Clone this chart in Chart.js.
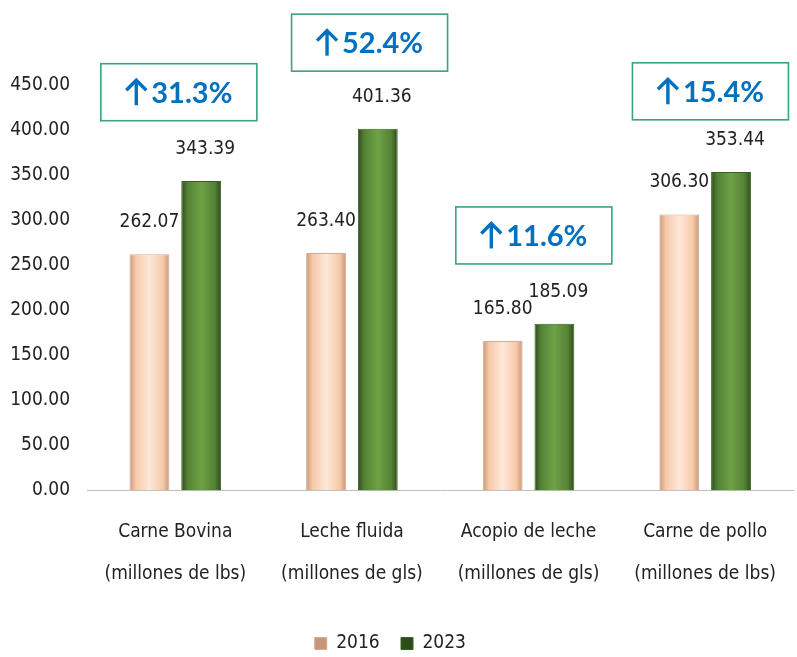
<!DOCTYPE html>
<html>
<head>
<meta charset="utf-8">
<script src="https://cdn.jsdelivr.net/npm/chart.js@4"></script>
<style>
  html, body { margin: 0; padding: 0; background: #fff; }
  #wrap { width: 797px; height: 657px; position: relative; }
</style>
</head>
<body>
<div id="wrap"><canvas id="chart"></canvas></div>
<script>
const categories = [
  ['Carne Bovina', '(millones de lbs)'],
  ['Leche fluida', '(millones de gls)'],
  ['Acopio de leche', '(millones de gls)'],
  ['Carne de pollo', '(millones de lbs)']
];
const values2016 = [262.07, 263.40, 165.80, 306.30];
const values2023 = [343.39, 401.36, 185.09, 353.44];
const growthLabels = ['31.3%', '52.4%', '11.6%', '15.4%'];
const yTicks = [0, 50, 100, 150, 200, 250, 300, 350, 400, 450];

const narrow = '"DejaVu Sans Condensed", "Liberation Sans Narrow", sans-serif';

// horizontal shading so the bars look a bit bevelled
function barFill(light, mid, dark, side) {
  return (ctx) => {
    const chart = ctx.chart;
    const xs = chart.scales && chart.scales.x;
    if (!xs || typeof ctx.dataIndex !== 'number') return mid;
    const slot = xs.width / chart.data.labels.length * 0.586 / 2;
    const cx = xs.getPixelForValue(ctx.dataIndex) + side * slot / 2;
    const half = slot * 0.77 / 2;
    if (!isFinite(cx) || !isFinite(half) || half <= 0) return mid;
    const g = chart.ctx.createLinearGradient(cx - half, 0, cx + half, 0);
    g.addColorStop(0, dark);
    g.addColorStop(0.16, mid);
    g.addColorStop(0.5, light);
    g.addColorStop(0.84, mid);
    g.addColorStop(1, dark);
    return g;
  };
}

// value labels above bars
const valueLabels = {
  id: 'valueLabels',
  afterDatasetsDraw(chart) {
    const c = chart.ctx;
    c.save();
    c.font = '19px ' + narrow;
    c.fillStyle = '#222';
    c.textAlign = 'center';
    c.textBaseline = 'middle';
    chart.data.datasets.forEach((ds, i) => {
      chart.getDatasetMeta(i).data.forEach((bar, j) => {
        c.fillText(ds.data[j].toFixed(2), bar.x + (i === 0 ? 0 : 4), bar.y - 32);
      });
    });
    c.restore();
  }
};

// growth boxes (placement: offset in category units, height in axis units)
const growthBoxes = {
  id: 'growthBoxes',
  afterDraw(chart, args, opts) {
    const c = chart.ctx;
    const xs = chart.scales.x, ys = chart.scales.y;
    c.save();
    growthLabels.forEach((txt, i) => {
      const cx = xs.getPixelForValue(i + opts.dx[i]);
      const cy = ys.getPixelForValue(opts.at[i]);
      const w = 156, h = 57;
      c.fillStyle = '#fff';
      c.fillRect(cx - w / 2, cy - h / 2, w, h);
      c.strokeStyle = '#3BA37C';
      c.lineWidth = 1.6;
      c.strokeRect(cx - w / 2, cy - h / 2, w, h);
      c.font = 'bold 29px Lato, sans-serif';
      const tw = c.measureText(txt).width;
      const aw = 26;
      const x0 = cx - (tw + aw) / 2;
      // arrow
      c.strokeStyle = '#0070C0';
      c.lineWidth = 3.4;
      c.lineCap = 'butt';
      c.lineJoin = 'miter';
      const ax = x0 + 11, top = cy - 12, bot = cy + 13;
      c.beginPath();
      c.moveTo(ax, top + 1);
      c.lineTo(ax, bot);
      c.stroke();
      c.beginPath();
      c.moveTo(ax - 10, top + 10);
      c.lineTo(ax, top);
      c.lineTo(ax + 10, top + 10);
      c.stroke();
      c.fillStyle = '#0070C0';
      c.textBaseline = 'middle';
      c.textAlign = 'left';
      c.fillText(txt, x0 + aw, cy + 1);
    });
    c.restore();
  }
};

new Chart(document.getElementById('chart'), {
  type: 'bar',
  data: {
    labels: categories,
    datasets: [
      {
        label: '2016',
        data: values2016,
        backgroundColor: barFill('#FDE8DA', '#F6C9A8', '#C7967A', -1),
        borderColor: '#D8AC90',
        borderWidth: 1,
        borderSkipped: 'bottom'
      },
      {
        label: '2023',
        data: values2023,
        backgroundColor: barFill('#6EA246', '#548235', '#2C4C1A', 1),
        borderColor: '#3B5F24',
        borderWidth: 1,
        borderSkipped: 'bottom'
      }
    ]
  },
  options: {
    responsive: true,
    maintainAspectRatio: false,
    animation: false,
    layout: { padding: { top: 85, right: 0, left: 0, bottom: -6 } },
    datasets: {
      bar: { categoryPercentage: 0.586, barPercentage: 0.77 }
    },
    scales: {
      x: {
        grid: { display: false, drawTicks: false },
        border: { display: true, color: '#BFBFBF', width: 1 },
        afterFit: (axis) => { axis.height += 13; },
        ticks: {
          color: '#222',
          font: { family: narrow, size: 19, lineHeight: 2.2 },
          padding: 21,
          maxRotation: 0
        }
      },
      y: {
        min: 0,
        max: 450,
        grid: { display: false, drawTicks: false },
        border: { display: false },
        afterFit: (axis) => { axis.width = 87; },
        afterBuildTicks: (axis) => { axis.ticks = yTicks.map(v => ({ value: v })); },
        ticks: {
          color: '#222',
          font: { family: narrow, size: 19 },
          padding: 17,
          callback: (v) => Number(v).toFixed(2)
        }
      }
    },
    plugins: {
      legend: {
        position: 'bottom',
        labels: {
          color: '#222',
          font: { family: narrow, size: 19 },
          boxWidth: 12,
          boxHeight: 12,
          padding: 5,
          generateLabels: (chart) => {
            const items = Chart.defaults.plugins.legend.labels.generateLabels(chart);
            items.forEach(it => { it.text = it.text + '   '; });
            return items;
          }
        }
      },
      growthBoxes: {
        dx: [0.02, 0.1, 0.03, 0.03],
        at: [442, 497, 283, 443]
      },
      tooltip: { enabled: false }
    }
  },
  plugins: [valueLabels, growthBoxes]
});
</script>
</body>
</html>
